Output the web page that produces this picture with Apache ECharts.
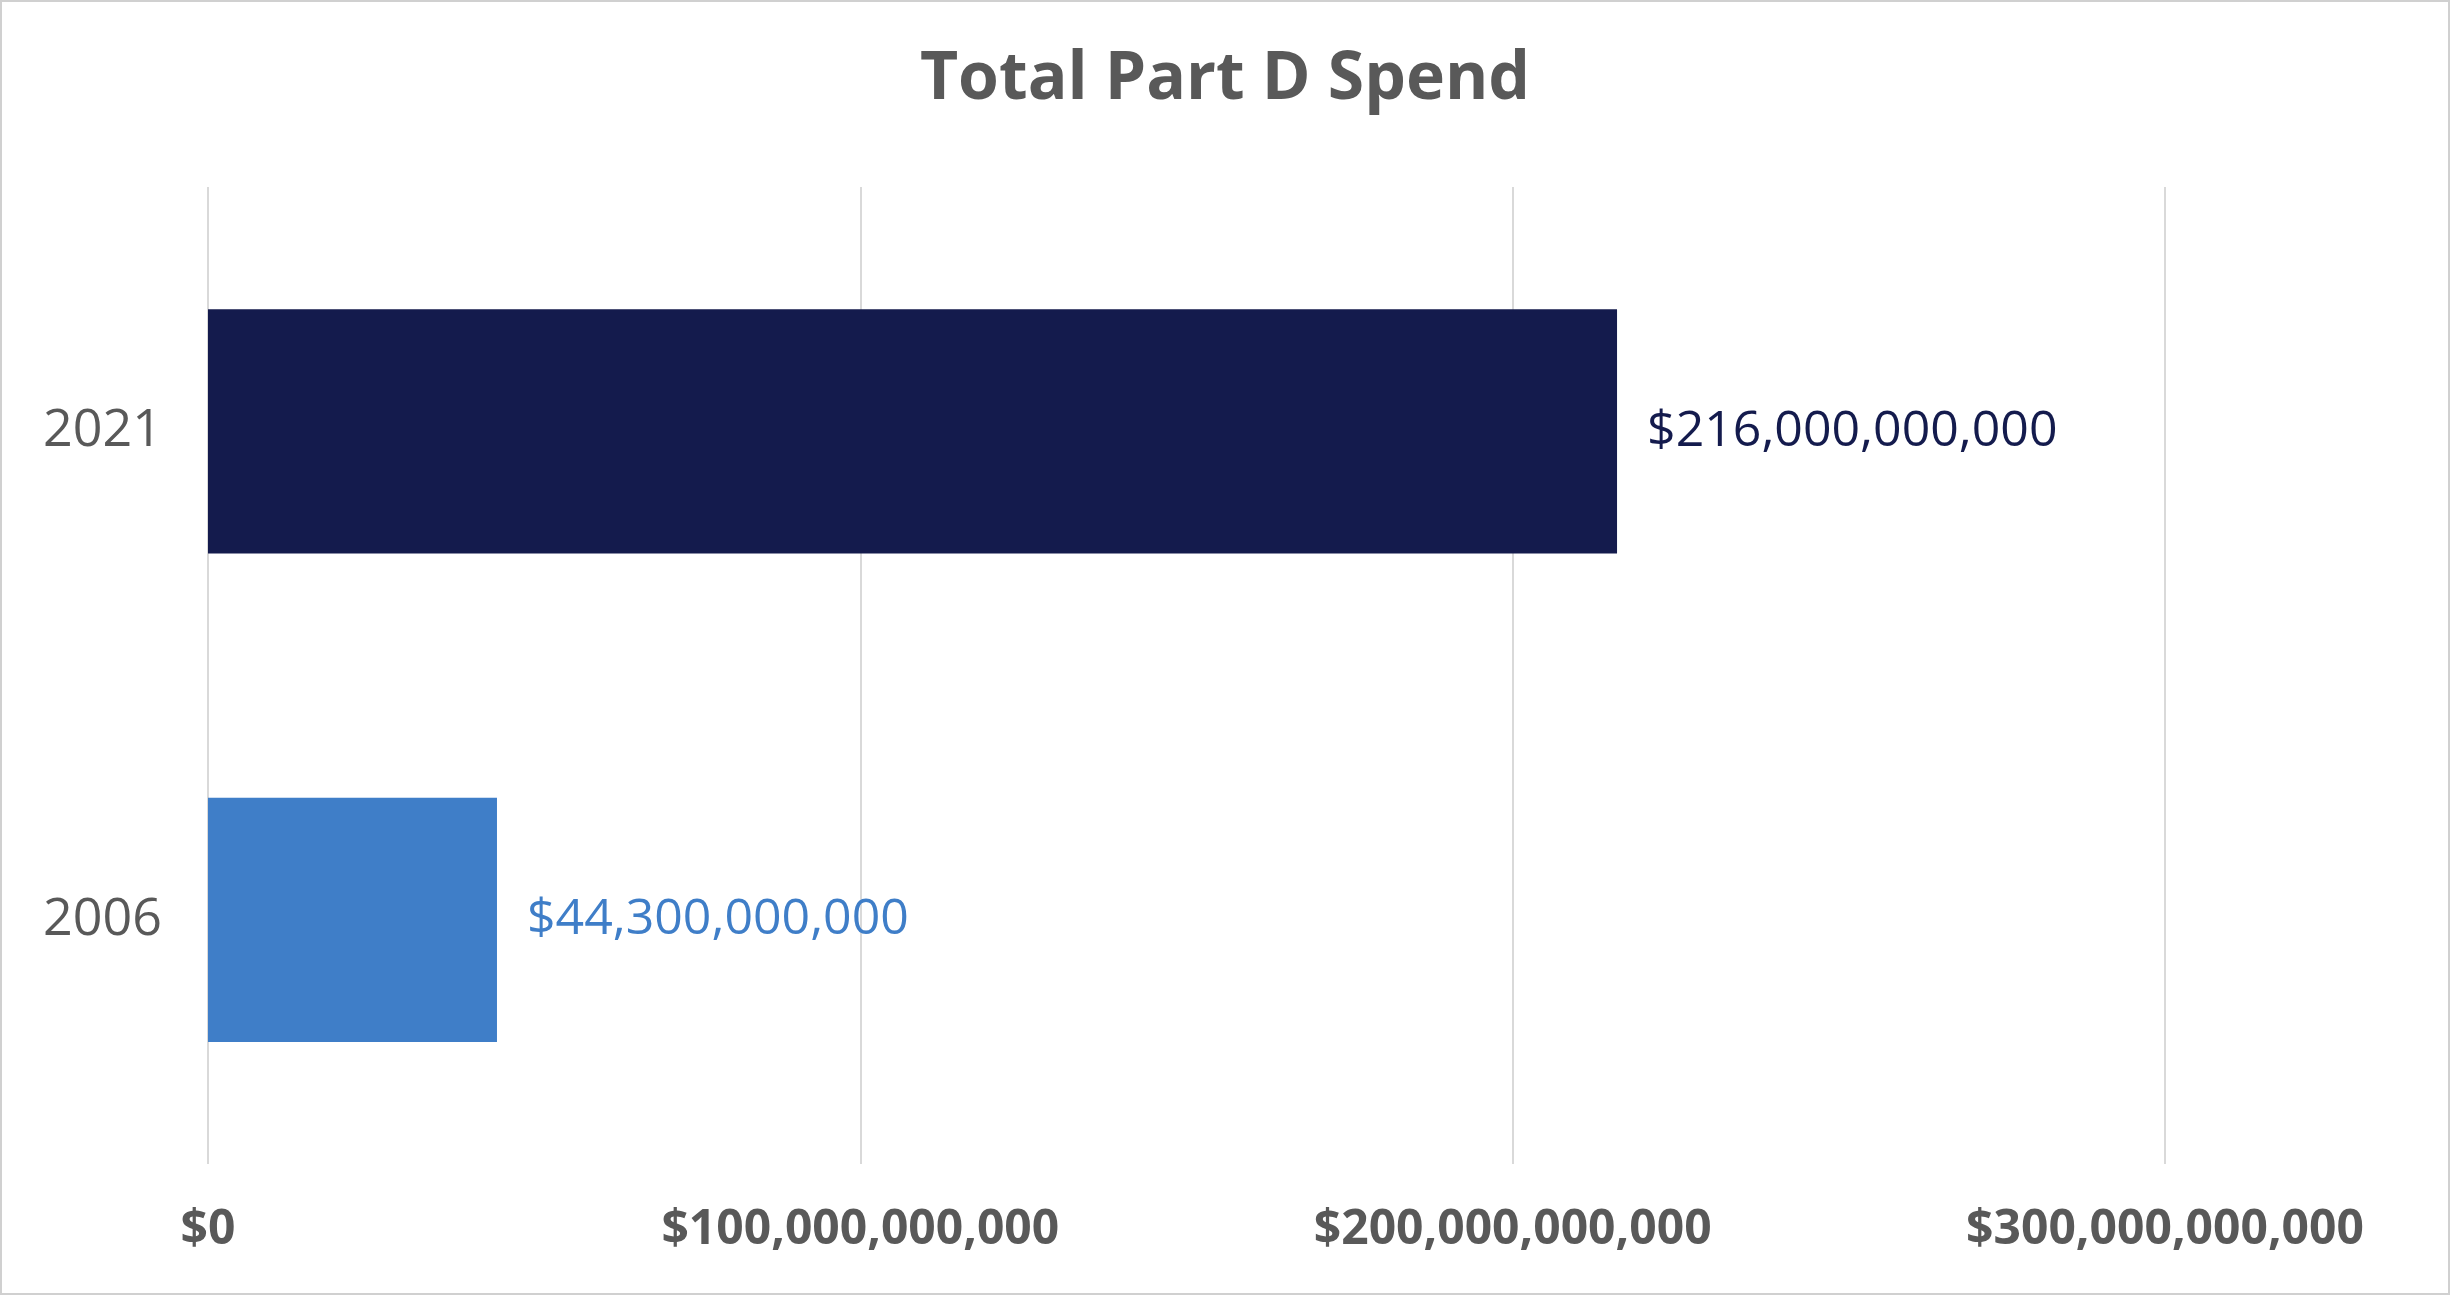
<!DOCTYPE html>
<html><head><meta charset="utf-8">
<script src="https://cdn.jsdelivr.net/npm/echarts@6/dist/echarts.min.js"></script>
<style>html,body{margin:0;padding:0;background:#fff}#c{width:2450px;height:1295px;box-sizing:border-box;border:2px solid #d0d0d0}</style>
</head><body><div id="c"></div>
<script>
const categories = ['2006', '2021'];
const values = [44300000000, 216000000000];
const barColors = ['#3F7EC8', '#141B4D'];
const titleText = 'Total Part D Spend';
const fmt = v => '$' + Math.round(v).toLocaleString('en-US');
const chart = echarts.init(document.getElementById('c'));
chart.setOption({
  animation: false,
  title: {text: titleText, left: 'center', top: 40,
    textStyle: {fontFamily: 'Open Sans', fontWeight: 'bold', fontSize: 66, color: '#595959'}},
  grid: {left: 206, right: 283, top: 185, bottom: 129},
  xAxis: {type: 'value', min: 0, max: 300000000000, interval: 100000000000,
    axisLine: {show: false}, axisTick: {show: false},
    splitLine: {lineStyle: {color: '#d9d9d9', width: 2}},
    axisLabel: {formatter: fmt, margin: 42, fontFamily: 'Open Sans', fontWeight: 'bold', fontSize: 48, color: '#595959'}},
  yAxis: {type: 'category', data: categories,
    axisLine: {show: false}, axisTick: {show: false},
    axisLabel: {margin: 46, fontFamily: 'Open Sans', fontSize: 52, color: '#595959'}},
  series: [{type: 'bar', barWidth: '50%',
    data: values.map((v, i) => ({value: v, itemStyle: {color: barColors[i]},
      label: {color: barColors[i]}})),
    label: {show: true, position: 'right', distance: 30, formatter: p => fmt(p.value),
      fontFamily: 'Open Sans', fontSize: 50}}]
});
</script></body></html>
